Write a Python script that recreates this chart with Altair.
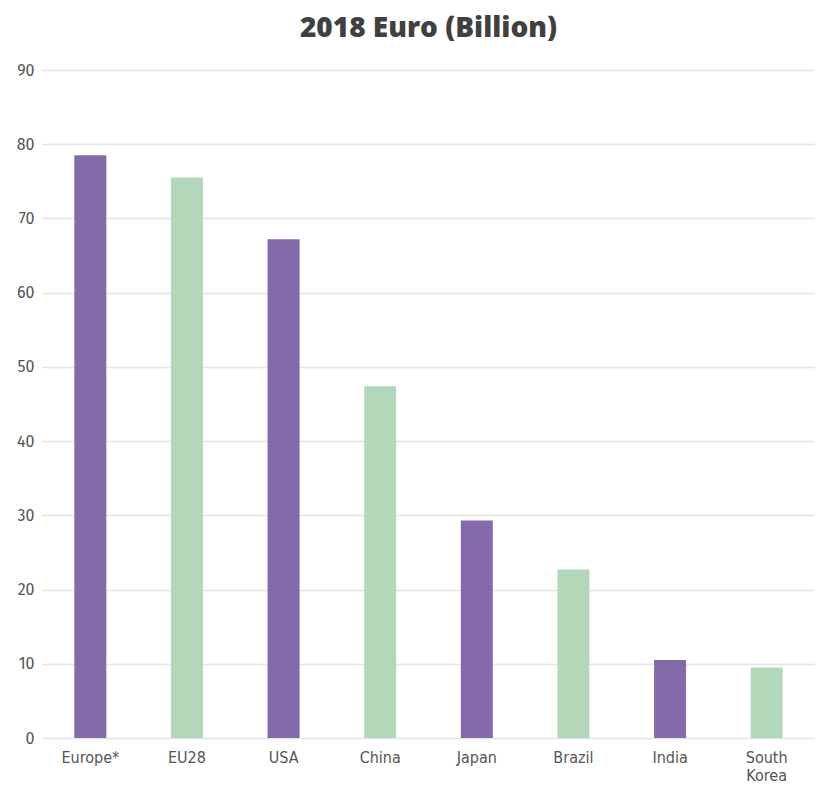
import altair as alt
import pandas as pd

countries = ["Europe*", "EU28", "USA", "China", "Japan", "Brazil", "India", "South Korea"]
values = [78.5, 75.5, 67.2, 47.4, 29.3, 22.7, 10.5, 9.5]
groups = ["a", "b", "a", "b", "a", "b", "a", "b"]

df = pd.DataFrame({"country": countries, "value": values, "group": groups})

chart = alt.Chart(df).mark_bar(size=32).encode(
    x=alt.X("country:N", sort=countries, title=None,
            scale=alt.Scale(paddingInner=0.67, paddingOuter=0.335),
            axis=alt.Axis(labelAngle=0, labelFont="DejaVu Sans Condensed, Roboto", labelFontSize=16,
                          labelColor="#555555", labelPadding=11, ticks=False, domain=False,
                          labelExpr="datum.label == 'South Korea' ? ['South', 'Korea'] : datum.label",
                          labelLineHeight=18)),
    y=alt.Y("value:Q", title=None,
            scale=alt.Scale(domain=[0, 90]),
            axis=alt.Axis(values=list(range(0, 91, 10)), labelFont="Fira Sans, Noto Sans",
                          labelFontSize=16, labelColor="#555555", labelPadding=8,
                          ticks=False, domain=False, gridColor="#e4e4e4", gridWidth=1.5)),
    color=alt.Color("group:N", scale=alt.Scale(domain=["a", "b"], range=["#8469ab", "#b3d8b9"]),
                    legend=None),
).properties(
    width=773, height=668,
    autosize=alt.AutoSizeParams(type="none"),
    padding={"left": 34, "right": 0, "top": 62, "bottom": 49},
    title=alt.Title("2018 Euro (Billion)", font="Open Sans", fontSize=28, fontWeight=800,
                    color="#404040", offset=19, anchor="middle"),
).configure_view(stroke=None)

chart.save("out.html", embed_options={"renderer": "svg", "actions": False})
